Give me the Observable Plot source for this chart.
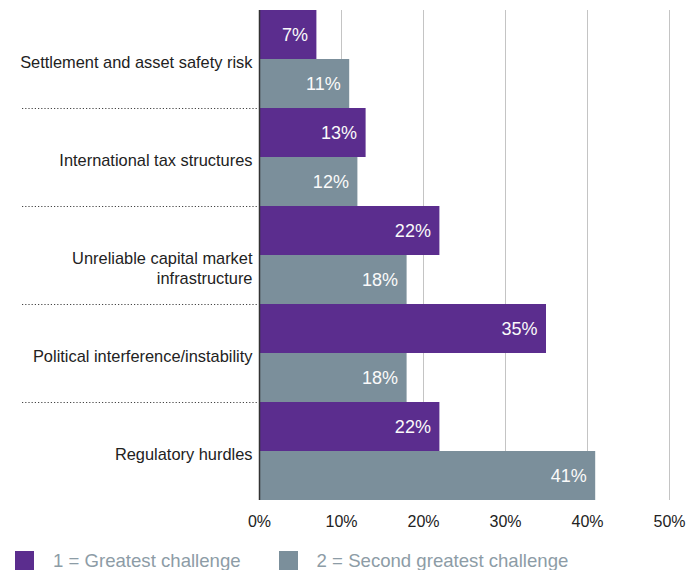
<!DOCTYPE html>
<html>
<head>
<meta charset="utf-8">
<script src="https://cdn.jsdelivr.net/npm/d3@7"></script>
<script src="https://cdn.jsdelivr.net/npm/@observablehq/plot@0.6"></script>
<style>
  body { margin: 0; background: #fff; font-family: "Liberation Sans", Arial, sans-serif; }
  #legend { display: flex; align-items: center; height: 19px; margin-top: 11px; padding-left: 15px; }
  .item { display: flex; align-items: center; margin-right: 38px; }
  .sw { width: 19px; height: 19px; margin-right: 19px; }
  .lab { font-size: 18.6px; color: #8d9ca6; white-space: nowrap; }
</style>
</head>
<body>
<div id="chart"></div>
<div id="legend"></div>
<script>
const categories = [
  "Settlement and asset safety risk",
  "International tax structures",
  "Unreliable capital market\ninfrastructure",
  "Political interference/instability",
  "Regulatory hurdles"
];
const greatest = [7, 13, 22, 35, 22];
const second = [11, 12, 18, 18, 41];
const seriesNames = ["1 = Greatest challenge", "2 = Second greatest challenge"];
const seriesColors = ["#5b2d8e", "#7b8f9b"];
const xTicks = [0, 10, 20, 30, 40, 50];

const data = [];
categories.forEach((c, i) => {
  data.push({category: c, series: seriesNames[0], value: greatest[i]});
  data.push({category: c, series: seriesNames[1], value: second[i]});
});

const chart = Plot.plot({
  width: 700,
  height: 540,
  marginTop: 8,
  marginBottom: 39,
  marginLeft: 259,
  marginRight: 31,
  style: {fontFamily: "'Liberation Sans', Arial, sans-serif", color: "#222"},
  x: {domain: [0, 50], ticks: xTicks, tickFormat: d => d + "%", label: null},
  y: {domain: seriesNames, padding: 0, axis: null},
  fy: {domain: categories, padding: 0, axis: null},
  color: {domain: seriesNames, range: seriesColors},
  marks: [
    Plot.gridX(xTicks.filter(d => d > 0), {stroke: "#c4c4c4", strokeOpacity: 1, strokeWidth: 1}),
    Plot.barX(data, {x: "value", y: "series", fy: "category", fill: "series", inset: 0}),
    Plot.text(data, {
      x: "value", y: "series", fy: "category",
      text: d => d.value + "%",
      textAnchor: "end", dx: -9, fill: "#fafafa", fontSize: 18
    }),
    Plot.text(categories, {
      fy: d => d, text: d => d,
      frameAnchor: "left", textAnchor: "end", dx: -7, dy: -5,
      lineAnchor: "top", lineHeight: 1.2, fontSize: 16.4, fill: "#222"
    }),
    Plot.ruleX([0], {stroke: "#333", strokeWidth: 1.5}),
    Plot.axisX({ticks: xTicks, tickFormat: d => d + "%", tickSize: 0, tickPadding: 15, fontSize: 16, fill: "#222", label: null})
  ]
});

// dotted separators between category groups, placed with the fy scale
const fy = chart.scale("fy");
const svg = d3.select(chart);
categories.slice(0, -1).forEach(c => {
  const y = Math.round(fy.apply(c) + fy.bandwidth) + 0.5;
  svg.append("line")
    .attr("x1", 22).attr("x2", 257)
    .attr("y1", y).attr("y2", y)
    .attr("stroke", "#444")
    .attr("stroke-width", 1.2)
    .attr("stroke-dasharray", "1.2,2");
});

document.getElementById("chart").appendChild(chart);

const legend = d3.select("#legend");
seriesNames.forEach((s, i) => {
  const it = legend.append("div").attr("class", "item");
  it.append("div").attr("class", "sw").style("background", seriesColors[i]);
  it.append("span").attr("class", "lab").text(s);
});
</script>
</body>
</html>
